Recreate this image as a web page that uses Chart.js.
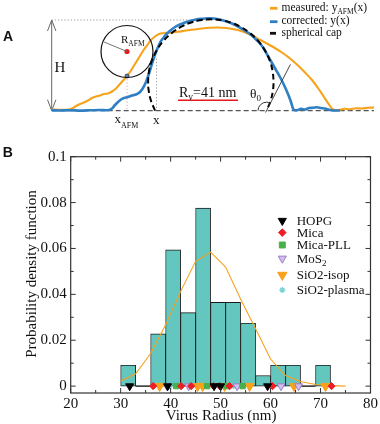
<!DOCTYPE html>
<html><head><meta charset="utf-8">
<script src="https://cdn.jsdelivr.net/npm/chart.js@4.4.1/dist/chart.umd.min.js"></script>
<style>
html,body{margin:0;padding:0;background:#fff;}
#wrap{position:relative;width:380px;height:424px;overflow:hidden;}
canvas{position:absolute;left:0;}
#ca{top:0;}
#cb{top:135px;}
</style></head><body>
<div id="wrap"><canvas id="ca" width="380" height="135"></canvas><canvas id="cb" width="380" height="289"></canvas></div>
<script>
// ================= Panel A data (profile: x along scan, h = height above substrate) =================
const measuredX = [51.7,60,68,72,76,80,84,88,92,96,100,104,108,112,116,120,124,127,131,135,139,143,147,151,155,159,164,170,178,186,194,202,210,218,226,234,242,250,258,266,274,282,290,298,306,312,318,324,329,333,338,344,350,356,362,368,374];
const measuredH = [1.2,0.9,1.1,2.2,4.7,6.7,8.2,10.2,12.7,14.2,15.2,16.7,17.2,19.2,22.2,26.7,31.2,34.7,40.2,46.7,53.2,59.7,65.2,70.7,74.2,76.7,77.5,78.1,78.9,80.2,81.2,82.2,82.9,83.2,82.7,81.4,79.4,76.2,71.9,67.7,63.2,58.2,52.2,45.2,37.2,30.7,22.7,13.7,6.2,1.2,0.5,1.9,1.5,2.4,2.2,2.9,3.2];
const correctedX = [51.7,60,70,80,90,100,108,112,115,118,121,124,128,132,136,140,143,146,148.5,151,153.5,156,158.5,161,164,167,171,175,180,185,190,196,202,208,214,220,226,232,238,244,250,255,260,264,268,272,276,280,284,288,291,293.5,297,301,305,309,313,317,321,325,329,333,340];
const correctedH = [0.4,0.2,0.5,0.1,0.4,0.7,0.5,2.2,5.7,8.7,11.2,12.7,13.7,15.2,16.2,18.7,22.7,28.7,35.7,43.7,51.7,58.7,64.7,69.7,73.7,77.2,80.7,83.7,86.2,88.2,89.7,91.2,91.9,92.4,92.2,91.2,89.4,87.2,84.2,80.7,76.7,72.2,67.2,61.7,54.7,47.7,40.7,33.7,25.7,16.7,8.7,1.2,0.4,1.9,1.2,2.7,2.9,3.5,2.7,2.2,0.9,0.2,0.2];
const capX = [155.1,151,148.7,148.1,149.1,151.8,156.5,163.6,172.1,181.3,190.4,200.2,210.8,221.4,231.2,240.3,249.5,258,265.1,269.8,272.5,273.5,272.9,270.6,266.5];
const capH = [0,10,20,28.7,40,50,60,70,78,84,88,90.5,91.4,90.5,88,84,78,70,60,50,40,28.7,20,10,0];
const tipCenter = [127, 59.2];
const tipContact = [127, 34.7];
const legendA = ['measured: y', 'corrected: y(x)', 'spherical cap'];

// ================= Panel B data =================
const binCenters = [31.5,34.5,37.5,40.5,43.5,46.5,49.5,52.5,55.5,58.5,61.5,64.5,67.5,70.5];
const density    = [0.0091,0,0.0228,0.0594,0.0320,0.0776,0.0365,0.0365,0.0274,0.0046,0.0091,0.0091,0,0.0091];
const fitX = [30,33,36,39,42,45,48,51,54,57,60,63,66,69,72,75];
const fitY = [0.0022,0.0054,0.0142,0.0267,0.0413,0.0544,0.0584,0.0519,0.0380,0.0250,0.0118,0.0046,0.0020,0.0007,0.0002,0.0];
const radiiHOPG      = [31.8,39.4,48.7,50.0,59.4];
const radiiMica      = [36.5,42.1,44.1,48.6,49.8,51.8,60.4,72.2];
const radiiMicaPLL   = [41.1,47.3,51.2,54.4];
const radiiMoS2      = [39.3,43.6,53.3,62.1,65.6];
const radiiSiO2isop  = [37.8,45.4,46.4,50.8,55.8,64.7,71.0];
const radiiSiO2plasma= [39.8,46.8,52.6];
const xTicks = [20,30,40,50,60,70,80];
const xTickLabels = ['20','30','40','50','60','70','80'];
const xMinorTicks = [25,35,45,55,65,75];
const yTicks = [0,0.02,0.04,0.06,0.08,0.1];
const yTickLabels = ['0','0.02','0.04','0.06','0.08','0.1'];
const yMinorTicks = [0.01,0.03,0.05,0.07,0.09];

// ================= helpers =================
const SERIF = '"Liberation Serif","Times New Roman",serif';
const SANS = '"Liberation Sans",Arial,sans-serif';
function runs(ctx, x, y, parts, color){
  ctx.fillStyle = color || '#111';
  ctx.textBaseline = 'alphabetic'; ctx.textAlign = 'left';
  let cx = x;
  for (const p of parts){
    ctx.font = (p.w ? p.w + ' ' : '') + p.s + 'px ' + (p.f || SERIF);
    ctx.fillText(p.t, cx, y + (p.dy || 0));
    cx += ctx.measureText(p.t).width + (p.gap || 0);
  }
  return cx;
}
function seg(ctx, x1, y1, x2, y2){ ctx.beginPath(); ctx.moveTo(x1,y1); ctx.lineTo(x2,y2); ctx.stroke(); }
const zip = (xs, ys) => xs.map((v,i)=>({x:v, y:ys[i]}));

// ================= Panel A =================
const annotA = {
  id: 'annotA',
  beforeDatasetsDraw(chart){
    const {ctx, scales:{x, y}} = chart;
    const X = v => x.getPixelForValue(v), Y = v => y.getPixelForValue(v);
    ctx.save();
    ctx.strokeStyle = '#9a9a9a'; ctx.lineWidth = 1; ctx.setLineDash([1.2,2]);
    seg(ctx, X(51.7), Y(90.7), X(214), Y(90.7));
    ctx.strokeStyle = '#d9a3b3'; seg(ctx, X(tipContact[0]), Y(tipContact[1]), X(tipContact[0]), Y(0));
    ctx.strokeStyle = '#9a9a9a'; seg(ctx, X(156.5), Y(52), X(156.5), Y(0));
    ctx.strokeStyle = '#555'; ctx.lineWidth = 1.3; ctx.setLineDash([5,3]);
    seg(ctx, X(51.7), Y(0), X(374), Y(0));
    ctx.setLineDash([]);
    ctx.strokeStyle = '#666'; ctx.lineWidth = 1;
    const ax = X(51.7), t = Y(90.7), b = Y(0);
    seg(ctx, ax, t, ax, b);
    ctx.beginPath(); ctx.moveTo(ax-4.2, t+11); ctx.lineTo(ax, t); ctx.lineTo(ax+4.2, t+11); ctx.stroke();
    ctx.beginPath(); ctx.moveTo(ax-4.2, b-11); ctx.lineTo(ax, b); ctx.lineTo(ax+4.2, b-11); ctx.stroke();
    ctx.strokeStyle = '#e8191c'; ctx.lineWidth = 1.6;
    seg(ctx, X(178), Y(10.4), X(238), Y(10.4));
    ctx.restore();
  },
  afterDatasetsDraw(chart){
    const {ctx, scales:{x, y}} = chart;
    const X = v => x.getPixelForValue(v), Y = v => y.getPixelForValue(v);
    ctx.save();
    ctx.strokeStyle = '#666'; ctx.lineWidth = 0.9;
    seg(ctx, X(tipCenter[0]), Y(tipCenter[1]), X(103.3), Y(69));
    ctx.strokeStyle = '#333'; ctx.lineWidth = 0.9;
    const bx = X(266.5), by = Y(0);
    seg(ctx, bx - 0.46*2, by + 0.89*2, bx + 0.46*52, by - 0.89*52);
    ctx.lineWidth = 1;
    ctx.beginPath(); ctx.arc(bx, by, 8.5, Math.PI, 2*Math.PI - 1.095, false); ctx.stroke();
    runs(ctx, 3, 40.7, [{t:'A', s:14, w:'bold', f:SANS}], '#111');
    runs(ctx, 54.5, 72, [{t:'H', s:15}]);
    runs(ctx, 121, 43.2, [{t:'R', s:11}, {t:'AFM', s:7.5, dy:2.4}]);
    runs(ctx, 114.5, 123.3, [{t:'x', s:13}, {t:'AFM', s:8, dy:4.6}]);
    runs(ctx, 153, 123.8, [{t:'x', s:13}]);
    runs(ctx, 179, 97, [{t:'R', s:14}, {t:'v', s:9.5, dy:2.6}, {t:'=41 nm', s:14}]);
    runs(ctx, 250, 98, [{t:'\u03b8', s:13.5}, {t:'0', s:9, dy:2.6}]);
    const lx1 = 270, lx2 = 277.5, tx = 281.5;
    ctx.lineWidth = 2.8; ctx.lineCap = 'butt';
    ctx.strokeStyle = '#f7a21b'; seg(ctx, lx1, 8.3, lx2, 8.3);
    ctx.strokeStyle = '#2f7fc4'; seg(ctx, lx1, 21.7, lx2, 21.7);
    ctx.strokeStyle = '#111'; seg(ctx, lx1, 33.3, lx2-1.5, 33.3);
    runs(ctx, tx, 11, [{t:legendA[0], s:11.5}, {t:'AFM', s:7.5, dy:3}, {t:'(x)', s:11.5}]);
    runs(ctx, tx, 24.4, [{t:legendA[1], s:11.5}]);
    runs(ctx, tx, 36.2, [{t:legendA[2], s:11.5}]);
    ctx.restore();
  }
};

new Chart(document.getElementById('ca'), {
  type: 'scatter',
  data: { datasets: [
    {label:'tip', data:[{x:tipCenter[0], y:tipCenter[1]}], pointRadius:26, pointBackgroundColor:'rgba(0,0,0,0)', pointBorderColor:'#111', pointBorderWidth:1.2, order:0, clip:false},
    {label:'tipCenter', data:[{x:tipCenter[0], y:tipCenter[1]}], pointRadius:2.6, pointBackgroundColor:'#e8191c', pointBorderColor:'#e8191c', pointBorderWidth:0, order:0},
    {label:'contact', data:[{x:tipContact[0], y:tipContact[1]}], pointRadius:2, pointBackgroundColor:'#5a86b8', pointBorderColor:'#333', pointBorderWidth:0.8, order:0},
    {label:'spherical cap', data: zip(capX, capH), showLine:true, borderColor:'#000', borderWidth:2, borderDash:[6,3.5], pointRadius:0, tension:0.4, order:1},
    {label:'corrected', data: zip(correctedX, correctedH), showLine:true, borderColor:'#2f7fc4', borderWidth:2.6, pointRadius:0, tension:0.3, order:2},
    {label:'measured', data: zip(measuredX, measuredH), showLine:true, borderColor:'#f7a21b', borderWidth:2.1, pointRadius:0, tension:0.3, order:3}
  ]},
  options: {
    responsive:false, animation:false, events:[],
    layout:{padding:0, autoPadding:false},
    plugins:{legend:{display:false}, tooltip:{enabled:false}},
    scales:{
      x:{type:'linear', display:false, min:0, max:380},
      y:{type:'linear', display:false, min:-24.3, max:110.7}
    }
  },
  plugins:[annotA]
});

// ================= Panel B =================
const markerSpecs = [
  {label:'HOPG', xs:radiiHOPG, style:'triangle', rot:180, r:4.6, bg:'#000', bc:'#000', bw:1, lr:4.7},
  {label:'Mica', xs:radiiMica, style:'rectRot', rot:0, r:3.6, bg:'#ee1c24', bc:'#ee1c24', bw:1, lr:3.8},
  {label:'Mica-PLL', xs:radiiMicaPLL, style:'rect', rot:0, r:3.8, bg:'#46b04a', bc:'#46b04a', bw:1, lr:4.2},
  {label:'MoS', sub:'2', xs:radiiMoS2, style:'triangle', rot:180, r:4.6, bg:'#d2bfec', bc:'#9a7cc8', bw:1, lr:4.7},
  {label:'SiO2-isop', xs:radiiSiO2isop, style:'triangle', rot:180, r:5.4, bg:'#f9a11b', bc:'#f9a11b', bw:1, lr:5.4},
  {label:'SiO2-plasma', xs:radiiSiO2plasma, style:'star', rot:0, r:3, bg:'#7ad3d3', bc:'#7ad3d3', bw:1.4, lr:3}
];
const legendRowsB = [85.7, 97.6, 110, 123.5, 140, 155];

const frameB = {
  id:'frameB',
  afterDatasetDraw(chart, args){
    if (args.index !== 0) return;
    const {ctx} = chart;
    ctx.save(); ctx.strokeStyle = '#1a1a1a'; ctx.lineWidth = 1.4;
    args.meta.data.forEach((el, i) => {
      if (density[i] === 0) { seg(ctx, el.x - el.width/2, el.y, el.x + el.width/2, el.y); }
    });
    ctx.restore();
  },
  afterDraw(chart){
    const {ctx, chartArea:a, scales:{x, y}} = chart;
    ctx.save();
    ctx.strokeStyle = '#333'; ctx.lineWidth = 1.2;
    ctx.strokeRect(a.left, a.top, a.right - a.left, a.bottom - a.top);
    ctx.lineWidth = 1;
    const tx = (v, L) => { const p = x.getPixelForValue(v); seg(ctx, p, a.bottom, p, a.bottom - L); seg(ctx, p, a.top, p, a.top + L); };
    const ty = (v, L) => { const p = y.getPixelForValue(v); seg(ctx, a.left, p, a.left + L, p); seg(ctx, a.right, p, a.right - L, p); };
    xTicks.forEach(v => tx(v, 5)); xMinorTicks.forEach(v => tx(v, 3));
    yTicks.forEach(v => ty(v, 5)); yMinorTicks.forEach(v => ty(v, 3));
    ctx.fillStyle = '#111'; ctx.font = '15px ' + SERIF; ctx.textAlign = 'center'; ctx.textBaseline = 'alphabetic';
    ctx.fillText('Virus Radius (nm)', (a.left + a.right)/2 + 0.5, 285);
    ctx.save(); ctx.translate(35.5, 139); ctx.rotate(-Math.PI/2);
    ctx.fillText('Probability density function', 0, 0); ctx.restore();
    runs(ctx, 2.7, 22.3, [{t:'B', s:14, w:'bold', f:SANS}]);
    markerSpecs.forEach((m, i) => {
      const cy = legendRowsB[i];
      ctx.fillStyle = m.bg; ctx.strokeStyle = m.bc; ctx.lineWidth = m.bw;
      Chart.helpers.drawPoint(ctx, {pointStyle:m.style, rotation:m.rot, radius:m.lr, borderWidth:m.bw}, 282.3, cy);
      const parts = [{t:m.label, s:13}];
      if (m.sub) parts.push({t:m.sub, s:9, dy:3});
      runs(ctx, 296.7, cy + 4.3, parts);
    });
    ctx.restore();
  }
};

const datasetsB = [
  {type:'bar', label:'histogram', data: zip(binCenters, density), backgroundColor:'#63c7c0', borderColor:'#1a1a1a', borderWidth:0.9, borderSkipped:false, barPercentage:1, categoryPercentage:1, grouped:false, order:10},
  {type:'line', label:'fit', data: zip(fitX, fitY), borderColor:'#f7a21b', borderWidth:1.1, pointRadius:0, tension:0, fill:false, order:5}
].concat(markerSpecs.map((m, i) => ({
  type:'line', label:m.label, showLine:false, data: m.xs.map(v => ({x:v, y:0})),
  pointStyle:m.style, rotation:m.rot, pointRadius:m.r, pointBackgroundColor:m.bg, pointBorderColor:m.bc, pointBorderWidth:m.bw, order:1
})));

new Chart(document.getElementById('cb'), {
  type:'bar',
  data:{datasets: datasetsB},
  options:{
    responsive:false, animation:false, events:[],
    layout:{padding:{left:0, right:8.3, top:21.7, bottom:0}, autoPadding:false},
    plugins:{legend:{display:false}, tooltip:{enabled:false}},
    scales:{
      x:{type:'linear', position:'bottom', min:20, max:80, offset:false,
         grid:{display:false, drawTicks:false}, border:{display:false},
         afterBuildTicks: s => { s.ticks = xTicks.map(v => ({value:v})); },
         afterFit: s => { s.height = 31; },
         ticks:{autoSkip:false, maxRotation:0, padding:2, color:'#111', font:{family:SERIF, size:15},
                callback:(v, i) => xTickLabels[i]}},
      y:{type:'linear', position:'left', min:-0.003, max:0.1,
         grid:{display:false, drawTicks:false}, border:{display:false},
         afterBuildTicks: s => { s.ticks = yTicks.map(v => ({value:v})); },
         afterFit: s => { s.width = 70.7; },
         ticks:{autoSkip:false, padding:4, color:'#111', font:{family:SERIF, size:15},
                callback:(v, i) => yTickLabels[i]}}
    }
  },
  plugins:[frameB]
});
</script>
</body></html>
